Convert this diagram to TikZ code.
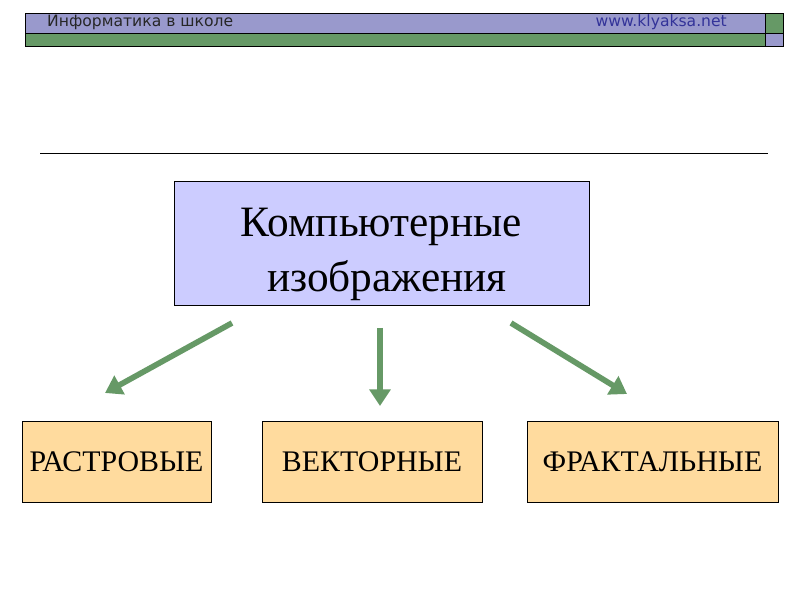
\documentclass[tikz,border=0pt]{standalone}
\usepackage{fontspec}
\setmainfont{Liberation Serif}
\newfontfamily\headfont{DejaVu Sans}
\usetikzlibrary{arrows.meta}
\definecolor{headblue}{HTML}{9999CC}
\definecolor{headgreen}{HTML}{669966}
\definecolor{urlblue}{HTML}{333399}
\definecolor{mainfill}{HTML}{CCCCFF}
\definecolor{kindfill}{HTML}{FFDB9E}
\definecolor{arrowgreen}{HTML}{669966}
\tikzset{
  headbar/.style={draw=black,line width=0.6pt},
  mainbox/.style={draw=black,fill=mainfill,line width=0.6pt,align=center,
    font=\fontsize{37}{47}\selectfont},
  kindbox/.style={draw=black,fill=kindfill,line width=0.6pt,
    font=\fontsize{25.5}{28}\selectfont},
  kindarrow/.style={-{Triangle[width=0.62cm,length=0.5cm]},draw=arrowgreen,line width=0.17cm}
}
\begin{document}
\begin{tikzpicture}[x=0.03cm,y=-0.03cm]
\useasboundingbox (0,0) rectangle (800,600);
% header
\fill[white] (0,0) rectangle (800,600);
\draw[headbar,fill=headblue] (25,13) rectangle (765,33);
\draw[headbar,fill=headgreen] (25,33) rectangle (765,46);
\draw[headbar,fill=headgreen] (765,13) rectangle (783,33);
\draw[headbar,fill=headblue] (765,33) rectangle (783,46);
\node[anchor=west,inner sep=0,font=\headfont\fontsize{13.3}{14}\selectfont,text=black!85] (school) at (47,22.5) {Информатика в школе};
\node[anchor=east,inner sep=0,font=\headfont\fontsize{13.3}{14}\selectfont,text=urlblue] (site) at (727,22.5) {www.klyaksa.net};
\draw[line width=0.6pt] (40,153) -- (768,153);
% boxes
\node[mainbox,minimum width=415*0.03cm,minimum height=124*0.03cm] (img) at (381.5,243) {\rule{0pt}{44pt}Компьютерные\\\ изображения};
\node[kindbox,minimum width=189*0.03cm,minimum height=81*0.03cm] (raster) at (116.5,461.5) {РАСТРОВЫЕ};
\node[kindbox,minimum width=220*0.03cm,minimum height=81*0.03cm] (vector) at (372,461.5) {ВЕКТОРНЫЕ};
\node[kindbox,minimum width=251*0.03cm,minimum height=81*0.03cm] (fractal) at (652.5,461.5) {ФРАКТАЛЬНЫЕ};
% arrow ends
\coordinate (a1) at (232,323);
\coordinate (b1) at (105,393);
\coordinate (a2) at (380,328);
\coordinate (b2) at (380,406);
\coordinate (a3) at (511,323);
\coordinate (b3) at (627,394);
\draw[kindarrow] (a1) -- (b1);
\draw[kindarrow] (a2) -- (b2);
\draw[kindarrow] (a3) -- (b3);
\end{tikzpicture}
\end{document}
